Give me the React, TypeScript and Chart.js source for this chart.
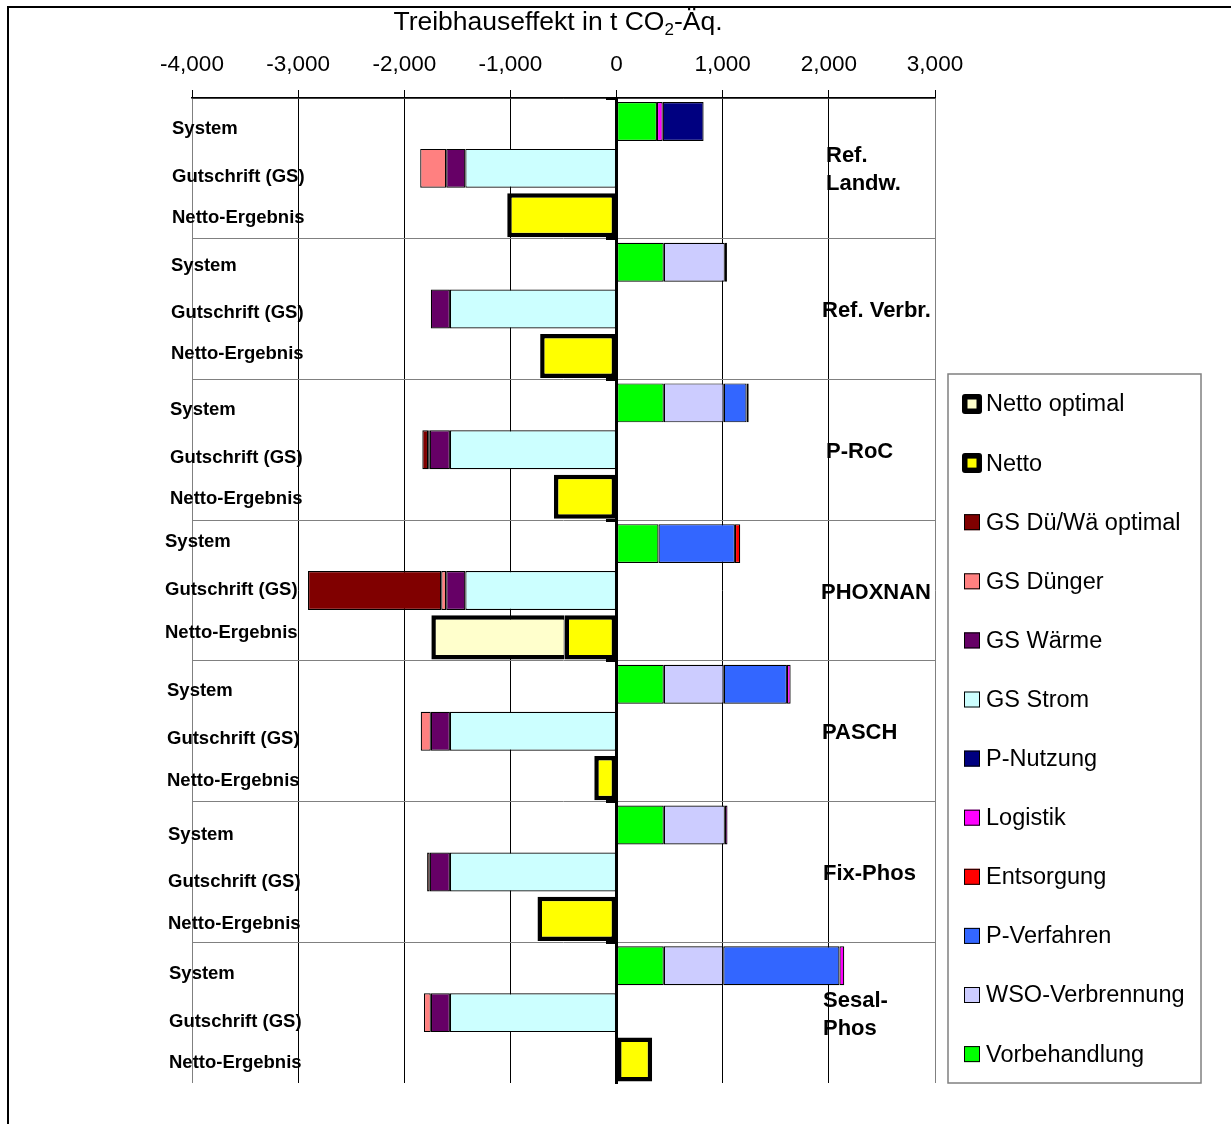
import React, { useEffect, useRef } from 'react';
import { Chart, registerables } from 'chart.js';

Chart.register(...registerables);

const FONT = '"Liberation Sans", Arial, Helvetica, sans-serif';

// Scenarios (7 groups of three rows each)
const groups = ['Ref. Landw.', 'Ref. Verbr.', 'P-RoC', 'PHOXNAN', 'PASCH', 'Fix-Phos', 'Sesal-Phos'];
const groupLabelLines = [['Ref.', 'Landw.'], ['Ref. Verbr.'], ['P-RoC'], ['PHOXNAN'], ['PASCH'], ['Fix-Phos'], ['Sesal-', 'Phos']];
const rowKinds = ['System', 'Gutschrift (GS)', 'Netto-Ergebnis'];
const xTickValues = [-4000, -3000, -2000, -1000, 0, 1000, 2000, 3000];

// "System" row, t CO2-Äq. per scenario
const vorbehandlung = [380, 445, 445, 395, 445, 445, 445];
const wsoVerbrennung = [null, 575, 565, null, 565, 575, 560];
const pVerfahren = [null, null, 215, 720, 595, null, 1095];
const entsorgung = [null, null, null, 50, null, null, null];
const logistik = [55, 20, 20, null, 35, 25, 45];
const pNutzung = [385, null, null, null, null, null, null];

// "Gutschrift (GS)" row
const gsStrom = [-1425, -1570, -1570, -1425, -1570, -1570, -1570];
const gsWaerme = [-180, -180, -190, -180, -180, -190, -180];
const gsDuenger = [-245, null, -15, -47, -95, -25, -65];
const gsOptimal = [null, null, -55, -1255, null, null, null];

// "Netto-Ergebnis" row
const netto = [-1030, -720, -590, -490, -210, -745, 335];
const nettoOptimal = [null, null, null, -1255, null, null, null];

type Series = { label: string; color: string; row: number; values: (number | null)[]; thick?: boolean };

const series: Series[] = [
  { label: 'Vorbehandlung', color: '#00FF00', row: 0, values: vorbehandlung },
  { label: 'WSO-Verbrennung', color: '#CCCCFF', row: 0, values: wsoVerbrennung },
  { label: 'P-Verfahren', color: '#3366FF', row: 0, values: pVerfahren },
  { label: 'Entsorgung', color: '#FF0000', row: 0, values: entsorgung },
  { label: 'Logistik', color: '#FF00FF', row: 0, values: logistik },
  { label: 'P-Nutzung', color: '#000080', row: 0, values: pNutzung },
  { label: 'GS Strom', color: '#CCFFFF', row: 1, values: gsStrom },
  { label: 'GS Wärme', color: '#660066', row: 1, values: gsWaerme },
  { label: 'GS Dünger', color: '#FF8080', row: 1, values: gsDuenger },
  { label: 'GS Dü/Wä optimal', color: '#800000', row: 1, values: gsOptimal },
  { label: 'Netto', color: '#FFFF00', row: 2, values: netto, thick: true },
  { label: 'Netto optimal', color: '#FFFFCC', row: 2, values: nettoOptimal, thick: true },
];

const rowLabels: string[] = [];
groups.forEach((g) => rowKinds.forEach((k) => rowLabels.push(g + ' – ' + k)));

// spread a per-scenario array onto the 21 rows
const toRows = (values: (number | null)[], row: number) => {
  const out: (number | null)[] = [];
  values.forEach((v) => {
    for (let r = 0; r < 3; r++) out.push(r === row ? v : null);
  });
  return out;
};

const W = 1224;
const H = 1118;

// placement of the hand-set text boxes
const rowLabelX = [165, 164, 163, 158, 160, 161, 162];
const rowLabelDy = [
  [7, 9, 3],
  [4, 4, -2],
  [7, 8, 2],
  [-2, -1, -4],
  [7, 8, 3],
  [10, 10, 5],
  [8, 9, 3],
];
const groupLabelX = [819, 815, 819, 814, 815, 816, 816];

const fmt = (v: number) => v.toLocaleString('en-US');

const decorations = {
  id: 'decorations',
  afterDraw(chart: any) {
    const ctx: CanvasRenderingContext2D = chart.ctx;
    const yScale = chart.scales.y;
    ctx.save();

    // outer frame (top and left)
    ctx.fillStyle = '#000';
    ctx.fillRect(0, 0, W, 2);
    ctx.fillRect(0, 0, 2, H);

    // axis title with subscript
    ctx.fillStyle = '#000';
    ctx.textBaseline = 'alphabetic';
    const big = `26.5px ${FONT}`;
    const small = `17px ${FONT}`;
    const p1 = 'Treibhauseffekt in t CO';
    const p2 = '2';
    const p3 = '-Äq.';
    ctx.font = big;
    const w1 = ctx.measureText(p1).width;
    const w3 = ctx.measureText(p3).width;
    ctx.font = small;
    const w2 = ctx.measureText(p2).width;
    const total = w1 + w2 + w3;
    let tx = 551 - total / 2;
    const base = 23.5;
    ctx.font = big;
    ctx.textAlign = 'left';
    ctx.fillText(p1, tx, base);
    tx += w1;
    ctx.font = small;
    ctx.fillText(p2, tx, base + 5);
    tx += w2;
    ctx.font = big;
    ctx.fillText(p3, tx, base);

    // row labels
    ctx.font = `bold 18.5px ${FONT}`;
    ctx.textBaseline = 'middle';
    groups.forEach((_, g) => {
      rowKinds.forEach((k, r) => {
        const y = yScale.getPixelForValue(g * 3 + r) + rowLabelDy[g][r];
        ctx.fillText(k, rowLabelX[g], y);
      });
    });

    // scenario names
    ctx.font = `bold 22px ${FONT}`;
    groupLabelLines.forEach((lines, g) => {
      const cy = yScale.getPixelForValue(g * 3 + 1) + 2;
      const start = cy - ((lines.length - 1) * 28) / 2;
      lines.forEach((line, i) => ctx.fillText(line, groupLabelX[g], start + i * 28));
    });

    // legend box
    ctx.strokeStyle = '#808080';
    ctx.lineWidth = 1.5;
    ctx.strokeRect(941, 368, 253, 709);
    const items = [...series].reverse();
    ctx.font = `23.5px ${FONT}`;
    items.forEach((s, i) => {
      const cy = 398 + i * 59.1;
      if (s.thick) {
        ctx.fillStyle = '#000';
        ctx.beginPath();
        (ctx as any).roundRect(955, cy - 10, 20, 20, 3);
        ctx.fill();
        ctx.fillStyle = s.color;
        ctx.fillRect(960.5, cy - 4.5, 9, 9);
      } else {
        ctx.fillStyle = s.color;
        ctx.fillRect(957, cy - 8, 16, 16);
        ctx.strokeStyle = '#000';
        ctx.lineWidth = 1;
        ctx.strokeRect(957.5, cy - 7.5, 15, 15);
      }
      ctx.fillStyle = '#000';
      ctx.fillText(s.label, 979, cy + 1);
    });

    ctx.restore();
  },
};

export default function App() {
  const ref = useRef<HTMLCanvasElement>(null);

  useEffect(() => {
    const canvas = ref.current;
    if (!canvas) return;
    const datasets = series.map((s) => ({
      label: s.label,
      data: toRows(s.values, s.row),
      backgroundColor: s.color,
      borderColor: '#000',
      borderWidth: s.thick
        ? s.label === 'Netto optimal'
          ? { top: 4.5, bottom: 4.5, left: 4.5, right: 1 }
          : 4.5
        : 1.2,
      borderSkipped: false as const,
      barPercentage: s.thick ? 0.94 : 0.83,
      categoryPercentage: 1,
    }));

    const chart = new Chart(canvas, {
      type: 'bar',
      data: { labels: rowLabels, datasets: datasets as any },
      options: {
        indexAxis: 'y',
        responsive: false,
        animation: false,
        devicePixelRatio: 1,
        layout: { padding: { left: 185, right: 296, top: 0, bottom: 41 } },
        plugins: {
          legend: { display: false },
          tooltip: { enabled: false },
        },
        scales: {
          x: {
            type: 'linear',
            position: 'top',
            stacked: true,
            min: xTickValues[0],
            max: xTickValues[xTickValues.length - 1],
            afterBuildTicks: (s: any) => {
              s.ticks = xTickValues.map((v) => ({ value: v }));
            },
            afterFit: (s: any) => {
              s.height = 92;
            },
            ticks: {
              font: { family: FONT, size: 22.5 },
              color: '#000',
              padding: 12,
              maxRotation: 0,
              autoSkip: false,
              callback: (v: any) => fmt(Number(v)),
            },
            grid: {
              color: (c: any) =>
                c.tick && (c.tick.value === xTickValues[0] || c.tick.value === xTickValues[xTickValues.length - 1])
                  ? '#808080'
                  : '#000',
              lineWidth: 1,
              tickLength: 8,
              tickColor: '#000',
            },
            border: { color: '#000', width: 1.5 },
          },
          y: {
            type: 'category',
            stacked: true,
            position: { x: 0 } as any,
            ticks: { display: false },
            grid: {
              offset: true,
              color: (c: any) => (c.index % 3 === 0 ? '#808080' : 'rgba(0,0,0,0)'),
              tickColor: (c: any) => (c.index % 3 === 0 ? '#000' : 'rgba(0,0,0,0)'),
              tickLength: 9,
              tickWidth: 3,
              lineWidth: 1,
            } as any,
            border: { color: '#000', width: 3 },
          },
        },
      },
      plugins: [decorations],
    });
    return () => chart.destroy();
  }, []);

  return (
    <div style={{ position: 'absolute', left: 7, top: 6, width: W, height: H }}>
      <canvas ref={ref} width={W} height={H} style={{ display: 'block', width: W, height: H }} />
    </div>
  );
}
